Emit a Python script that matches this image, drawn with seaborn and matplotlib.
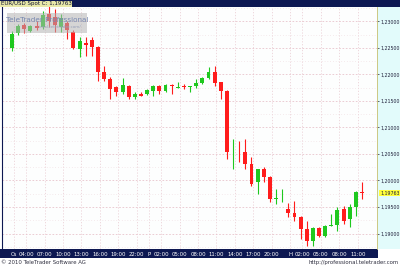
import matplotlib
matplotlib.use("Agg")
import matplotlib.pyplot as plt
import matplotlib.transforms as mtransforms
from matplotlib.patches import Rectangle
from matplotlib.ticker import FuncFormatter, MultipleLocator
import seaborn as sns
import numpy as np
import pandas as pd

# ---------------- data (hourly EUR/USD candles) ----------------
opens = [1.2250, 1.2278, 1.2293, 1.2282, 1.2291, 1.2289, 1.2314, 1.2308, 1.2289, 1.2297,
         1.2280, 1.2248, 1.2259, 1.2265, 1.2252, 1.2205, 1.2191, 1.2176, 1.2167,
         1.2178, 1.2157, 1.2163, 1.2163, 1.2169, 1.2178, 1.2169, 1.2180, 1.2175, 1.2179,
         1.2177, 1.2178, 1.2184, 1.2193, 1.2204, 1.2186, 1.2169, 1.2051, 1.2052,
         1.2054, 1.2031, 1.1997, 1.2022, 1.2007, 1.1965, 1.1966, 1.1946, 1.1939, 1.1931,
         1.1908, 1.1886, 1.1910, 1.1895, 1.1915, 1.1916, 1.1946, 1.1927, 1.1950, 1.1978]
highs = [1.2282, 1.2295, 1.2297, 1.2293, 1.2300, 1.2319, 1.2333, 1.2323, 1.2314, 1.2300,
         1.2284, 1.2270, 1.2270, 1.2270, 1.2254, 1.2216, 1.2195, 1.2178, 1.2193,
         1.2180, 1.2167, 1.2167, 1.2172, 1.2180, 1.2180, 1.2182, 1.2181, 1.2186, 1.2182,
         1.2179, 1.2191, 1.2195, 1.2214, 1.2216, 1.2186, 1.2170, 1.2078, 1.2074,
         1.2078, 1.2044, 1.2022, 1.2025, 1.2008, 1.1984, 1.1984, 1.1958, 1.1961, 1.1933,
         1.1924, 1.1912, 1.1912, 1.1916, 1.1937, 1.1950, 1.1952, 1.1956, 1.1980, 1.1997]
lows = [1.2244, 1.2274, 1.2278, 1.2280, 1.2284, 1.2285, 1.2289, 1.2280, 1.2280, 1.2267,
        1.2248, 1.2233, 1.2235, 1.2235, 1.2188, 1.2188, 1.2154, 1.2159, 1.2163,
        1.2154, 1.2154, 1.2159, 1.2161, 1.2159, 1.2163, 1.2167, 1.2163, 1.2174, 1.2172,
        1.2167, 1.2174, 1.2182, 1.2191, 1.2178, 1.2154, 1.2040, 1.2022, 1.2035,
        1.2022, 1.1990, 1.1974, 1.1997, 1.1959, 1.1956, 1.1959, 1.1931, 1.1924, 1.1890,
        1.1876, 1.1876, 1.1893, 1.1893, 1.1914, 1.1905, 1.1918, 1.1912, 1.1933, 1.1965]
closes = [1.2276, 1.2291, 1.2286, 1.2291, 1.2287, 1.2312, 1.2301, 1.2293, 1.2306, 1.2284,
          1.2250, 1.2263, 1.2255, 1.2252, 1.2205, 1.2191, 1.2172, 1.2167, 1.2180,
          1.2157, 1.2163, 1.2160, 1.2170, 1.2178, 1.2169, 1.2180, 1.2179, 1.2176, 1.2177,
          1.2178, 1.2184, 1.2193, 1.2204, 1.2184, 1.2169, 1.2054, 1.2052, 1.2051,
          1.2031, 1.1993, 1.2022, 1.2007, 1.1965, 1.1966, 1.1967, 1.1939, 1.1931, 1.1908,
          1.1886, 1.1910, 1.1895, 1.1914, 1.1916, 1.1944, 1.1924, 1.1950, 1.1978, 1.19763]

time_labels = ["Cs", "04:00", "07:00", "10:00", "13:00", "16:00", "19:00", "22:00",
               "P", "02:00", "05:00", "08:00", "11:00", "14:00", "17:00", "20:00",
               "H", "02:00", "05:00", "08:00", "11:00"]
time_label_pos = [0, 2, 5, 8, 11, 14, 17, 20, 22, 24, 27, 30, 33, 36, 39, 42, 45, 47, 50, 53, 56]
price_ticks = [1.19, 1.195, 1.20, 1.205, 1.21, 1.215, 1.22, 1.225, 1.23]
last_price = 1.19763
title = "EUR/USD Spot C: 1,19763"
footer_left = "© 2010 TeleTrader Software AG"
footer_right = "http://professional.teletrader.com"
watermark = "TeleTrader Professional"

# ---------------- styling ----------------
sns.set_theme(style="white")
plt.rcParams['font.family'] = ['DejaVu Sans']

W, H = 400, 266
fig = plt.figure(figsize=(4.0, 2.66), dpi=100)
fig.patch.set_facecolor('white')

def fx(px):
    return px / W

def fy(py):
    return 1 - py / H

NAVY = '#0d1852'
GREEN = '#1fc81f'
RED = '#ff1c1c'

# right price panel
fig.add_artist(Rectangle((fx(377), fy(249)), fx(400) - fx(377), fy(7) - fy(249),
                         transform=fig.transFigure, facecolor='#e2fbfb', edgecolor='none', zorder=-2))
# top bar
fig.add_artist(Rectangle((0, fy(7)), 1, fy(0) - fy(7), transform=fig.transFigure,
                         facecolor=NAVY, edgecolor='none', zorder=-2))
# bottom time bar
fig.add_artist(Rectangle((0, fy(258)), fx(378), fy(249) - fy(258), transform=fig.transFigure,
                         facecolor=NAVY, edgecolor='none', zorder=-2))

ax = fig.add_axes([fx(2), fy(249), fx(377) - fx(2), fy(7) - fy(249)])
ax.set_facecolor('#fdfefe')

df = pd.DataFrame({"o": opens, "h": highs, "l": lows, "c": closes})
df["i"] = np.arange(len(df))
df["up"] = df["c"] >= df["o"]
df["col"] = np.where(df["up"], GREEN, RED)
df["bottom"] = df[["o", "c"]].min(axis=1)
df["height"] = (df["c"] - df["o"]).abs().clip(lower=0.00009)

# grid
ax.yaxis.set_minor_locator(MultipleLocator(0.0025))
ax.grid(axis='y', which='major', color='#e8c4cc', ls=(0, (2, 2)), lw=0.6)
ax.grid(axis='y', which='minor', color='#eed8dd', ls=(0, (1, 3)), lw=0.5)
ax.grid(axis='x', visible=False)
for p in time_label_pos:
    ax.axvline(p + 0.3, color='#ecd2d8', ls=(0, (1.5, 2)), lw=0.6, zorder=0.5)

# candles
ax.vlines(df["i"], df["l"], df["h"], colors=df["col"], lw=0.8, zorder=2)
ax.bar(df["i"], df["height"], bottom=df["bottom"], width=0.64, color=df["col"],
       edgecolor='none', zorder=3)

ax.set_xlim(-1.63, 59.44)
ax.set_ylim(1.18708, 1.2327)

ax.set_xticks([])
ax.yaxis.tick_right()
ax.set_yticks(price_ticks)
ax.yaxis.set_major_formatter(FuncFormatter(lambda v, _: f"{v:.5f}".replace('.', ',')))
ax.tick_params(axis='y', which='major', labelsize=3.4, colors='#2a2a3a', length=1.2, width=0.5, pad=1.2)
ax.tick_params(axis='y', which='minor', length=0)
ax.tick_params(axis='y', labelcolor='#20203a')

for s in ['top', 'bottom']:
    ax.spines[s].set_visible(False)
ax.spines['left'].set_color(NAVY)
ax.spines['left'].set_linewidth(0.8)
ax.spines['right'].set_color('#c8c070')
ax.spines['right'].set_linewidth(0.6)
ax.spines['right'].set_linestyle((0, (1, 1)))

# highlighted last price on the right axis
trans_r = mtransforms.blended_transform_factory(ax.transAxes, ax.transData)
ax.text(1.0085, last_price, f"{last_price:.5f}".replace('.', ','), transform=trans_r,
        ha='left', va='center', fontsize=3.4, color='#20203a', clip_on=False,
        bbox=dict(facecolor='#ffff3a', edgecolor='none', pad=0.5), zorder=5)

# time labels in bottom bar
trans_b = mtransforms.blended_transform_factory(ax.transData, fig.transFigure)
for lbl, p in zip(time_labels, time_label_pos):
    ax.text(p + 0.3, fy(254), lbl, transform=trans_b, ha='center', va='center',
            fontsize=3.9, color='white', clip_on=False)

# title
fig.text(fx(1), fy(3.6), title, fontsize=4.0, color='#101030', ha='left', va='center',
         bbox=dict(facecolor='#e8e8a8', edgecolor='none', pad=0.4))

# watermark
fig.add_artist(Rectangle((fx(7), fy(33)), fx(87) - fx(7), fy(13) - fy(33), transform=fig.transFigure,
                         facecolor='#b4b4b4', alpha=0.55, edgecolor='none', zorder=10))
fig.text(fx(47), fy(19.5), watermark, fontsize=5.2, color='#7888b0', ha='center', va='center', zorder=11)
fig.text(fx(60), fy(27), "ional.teletrader.com/", fontsize=3, color='#98a0b8', ha='center', va='center', zorder=11)

# footer
fig.text(fx(1), fy(262.3), footer_left, fontsize=3.9, color='#303040', ha='left', va='center')
fig.text(fx(399), fy(262.3), footer_right, fontsize=3.9, color='#303040', ha='right', va='center')

fig.savefig("out.png", dpi=100, facecolor='white')
